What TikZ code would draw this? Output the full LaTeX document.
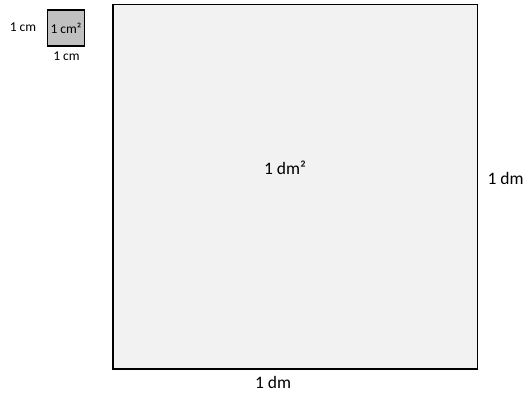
\documentclass[tikz,border=0pt]{standalone}
\usepackage{fontspec}
\setmainfont{Carlito}
\begin{document}
\begin{tikzpicture}[x=1pt,y=-1pt,
  small/.style={font=\fontsize{13.5}{15}\selectfont, inner sep=0pt},
  big/.style={font=\fontsize{17.5}{20}\selectfont, inner sep=0pt}]
\useasboundingbox (0,0) rectangle (530,403);
\fill[white] (0,0) rectangle (530,403);
\draw[line width=1.3pt, fill={rgb,255:red,192;green,192;blue,192}] (47.5,10) rectangle (84.5,46) node[pos=0.5, small] (cm2) {1 cm²};
\node[small] (cmleft) at (23,27) {1 cm};
\node[small] (cmbot) at (66.5,56.5) {1 cm};
\draw[line width=1.3pt, fill={rgb,255:red,242;green,242;blue,242}] (113,4.5) rectangle (477.5,369);
\node[big] (dm2) at (285,167.5) {1 dm²};
\node[big] (dmright) at (505.5,178.5) {1 dm};
\node[big] (dmbot) at (273,382.5) {1 dm};
\end{tikzpicture}
\end{document}
